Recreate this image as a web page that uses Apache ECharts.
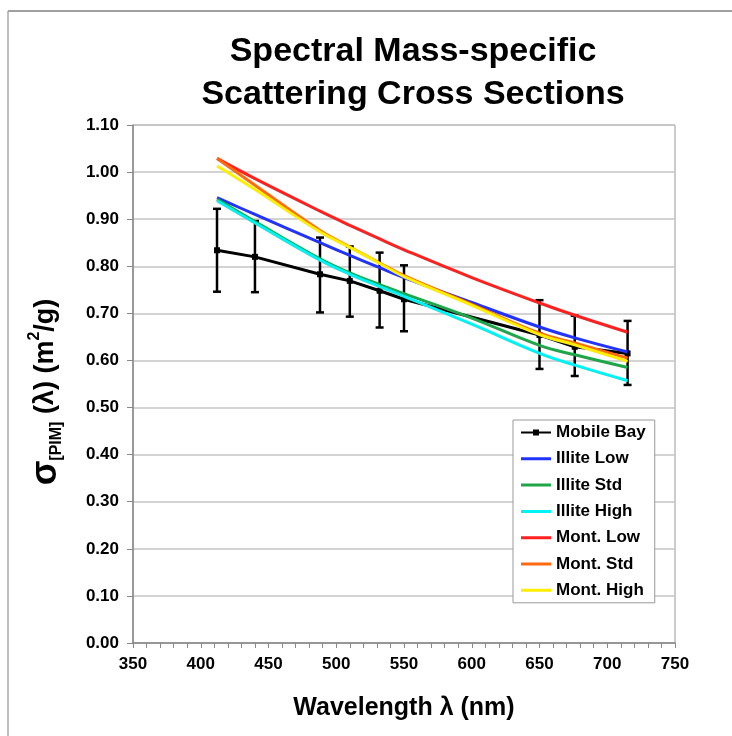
<!DOCTYPE html>
<html>
<head>
<meta charset="utf-8">
<script src="https://cdn.jsdelivr.net/npm/echarts@6/dist/echarts.min.js"></script>
<style>html,body{margin:0;padding:0;background:#fff;}#chart{width:732px;height:736px;}</style>
</head>
<body>
<div id="chart"></div>
<script>
// ---- data ----
const wavelengths = [412, 440, 488, 510, 532, 550, 650, 676, 715];
const mobileBay = [0.834, 0.820, 0.783, 0.769, 0.748, 0.730, 0.654, 0.629, 0.615];
const mobileBayLow = [0.746, 0.745, 0.702, 0.693, 0.670, 0.662, 0.582, 0.567, 0.548];
const mobileBayHigh = [0.922, 0.896, 0.861, 0.842, 0.829, 0.802, 0.728, 0.695, 0.684];

const modelWavelengths = [412, 440, 488, 510, 532, 550, 600, 650, 676, 715];
const illiteLow  = [0.946, 0.910, 0.850, 0.823, 0.797, 0.776, 0.723, 0.671, 0.648, 0.618];
const illiteStd  = [0.942, 0.895, 0.816, 0.786, 0.761, 0.742, 0.690, 0.632, 0.612, 0.585];
const illiteHigh = [0.939, 0.892, 0.813, 0.783, 0.757, 0.736, 0.677, 0.615, 0.590, 0.557];
const montLow    = [1.029, 0.986, 0.917, 0.887, 0.858, 0.835, 0.776, 0.722, 0.696, 0.660];
const montStd    = [1.029, 0.972, 0.876, 0.841, 0.807, 0.780, 0.719, 0.658, 0.637, 0.605];
const montHigh   = [1.013, 0.963, 0.873, 0.840, 0.806, 0.778, 0.717, 0.655, 0.633, 0.598];

const seriesNames = ['Mobile Bay', 'Illite Low', 'Illite Std', 'Illite High', 'Mont. Low', 'Mont. Std', 'Mont. High'];
const titleLines = ['Spectral Mass-specific', 'Scattering Cross Sections'];
const yTitle = '{s|σ}{sub|[PIM]}{t| (λ) (m}{sup|2}{t|/g)}';

const FONT = '"Liberation Sans", Arial, Helvetica, sans-serif';
const zip = (xs, ys) => xs.map((x, i) => [x, ys[i]]);

const LINE_ICON = 'path://M0,0L0,0Z M0,5.5H30V8.5H0Z M0,14L0,14Z';
const MARKER_ICON = 'path://M0,0L0,0Z M0,6H30V8H0Z M12,4H18V10H12Z M0,14L0,14Z';

const modelSeries = [
  [illiteLow, '#2233ff'],
  [illiteStd, '#1fa64a'],
  [illiteHigh, '#00f2f2'],
  [montLow, '#ff2020'],
  [montStd, '#ff6a10'],
  [montHigh, '#ffee00']
].map(([vals, color], i) => ({
  name: seriesNames[i + 1],
  type: 'line',
  data: zip(modelWavelengths, vals),
  smooth: 0.4,
  symbol: 'none',
  lineStyle: { color: color, width: 3 },
  itemStyle: { color: color },
  z: 3 + i
}));

const chart = echarts.init(document.getElementById('chart'));
chart.setOption({
  backgroundColor: '#fff',
  animation: false,
  title: {
    text: titleLines.join('\n'),
    left: 408, top: 25, textAlign: 'center',
    textStyle: { fontFamily: FONT, fontWeight: 'bold', fontSize: 34, lineHeight: 43, color: '#000' }
  },
  graphic: [
    { type: 'line', shape: { x1: 8, y1: 11, x2: 732, y2: 11 }, style: { stroke: '#808080', lineWidth: 1.5 } },
    { type: 'line', shape: { x1: 8, y1: 11, x2: 8, y2: 736 }, style: { stroke: '#a8a8a8', lineWidth: 1.5 } },
    {
      type: 'text', x: 46, y: 392, rotation: Math.PI / 2,
      style: {
        text: yTitle, align: 'center', verticalAlign: 'middle',
        fontFamily: FONT, fontWeight: 'bold', fill: '#000',
        rich: {
          s: { fontFamily: FONT, fontWeight: 'bold', fontSize: 36, fill: '#000', lineHeight: 38 },
          sub: { fontFamily: FONT, fontWeight: 'bold', fontSize: 16, fill: '#000', verticalAlign: 'bottom', lineHeight: 38, padding: [14, 0, 0, 0] },
          t: { fontFamily: FONT, fontWeight: 'bold', fontSize: 27, fill: '#000', lineHeight: 38 },
          sup: { fontFamily: FONT, fontWeight: 'bold', fontSize: 16, fill: '#000', verticalAlign: 'top', lineHeight: 38, padding: [0, 0, 12, 0] }
        }
      }
    }
  ],
  grid: { left: 133, right: 57, top: 125, bottom: 93, show: true, borderColor: '#999', borderWidth: 1, backgroundColor: 'transparent' },
  legend: {
    orient: 'vertical',
    left: 513, top: 420,
    data: seriesNames.map((n, i) => ({ name: n, icon: i === 0 ? MARKER_ICON : LINE_ICON })),
    itemWidth: 30, itemHeight: 14, itemGap: 9.3,
    padding: [4, 9, 4, 8],
    borderColor: '#999', borderWidth: 1, backgroundColor: '#fff',
    textStyle: { fontFamily: FONT, fontWeight: 'bold', fontSize: 17, lineHeight: 17, color: '#000' }
  },
  xAxis: {
    type: 'value', min: 350, max: 750, interval: 50,
    name: 'Wavelength λ (nm)', nameLocation: 'middle', nameGap: 53,
    nameTextStyle: { fontFamily: FONT, fontWeight: 'bold', fontSize: 25, color: '#000' },
    axisLine: { lineStyle: { color: '#888', width: 1.5 } },
    axisTick: { show: true, length: 5, lineStyle: { color: '#888' } },
    minorTick: { show: true, splitNumber: 5, length: 5, lineStyle: { color: '#888' } },
    splitLine: { show: false },
    axisLabel: { fontFamily: FONT, fontWeight: 'bold', fontSize: 17, color: '#000', margin: 13 }
  },
  yAxis: {
    type: 'value', min: 0, max: 1.1, interval: 0.1,
    axisLine: { show: true, lineStyle: { color: '#888', width: 1.5 } },
    axisTick: { show: true, length: 6, lineStyle: { color: '#888' } },
    splitLine: { show: true, lineStyle: { color: '#c4c4c4', width: 1.5 } },
    axisLabel: { fontFamily: FONT, fontWeight: 'bold', fontSize: 17, color: '#000', margin: 14,
      formatter: v => v.toFixed(2) }
  },
  series: [
    {
      name: seriesNames[0],
      type: 'line',
      data: zip(wavelengths, mobileBay),
      symbol: 'rect', symbolSize: 6,
      lineStyle: { color: '#000', width: 3 },
      itemStyle: { color: '#000' },
      z: 2
    },
    {
      name: 'errorbars',
      type: 'custom',
      data: wavelengths.map((w, i) => [w, mobileBayLow[i], mobileBayHigh[i]]),
      renderItem: function (params, api) {
        const lo = api.coord([api.value(0), api.value(1)]);
        const hi = api.coord([api.value(0), api.value(2)]);
        const hw = 4;
        const st = { stroke: '#000', lineWidth: 2.5 };
        return {
          type: 'group',
          children: [
            { type: 'line', shape: { x1: lo[0], y1: lo[1], x2: hi[0], y2: hi[1] }, style: st },
            { type: 'line', shape: { x1: lo[0] - hw, y1: lo[1], x2: lo[0] + hw, y2: lo[1] }, style: st },
            { type: 'line', shape: { x1: hi[0] - hw, y1: hi[1], x2: hi[0] + hw, y2: hi[1] }, style: st }
          ]
        };
      },
      z: 2,
      silent: true
    }
  ].concat(modelSeries)
});
</script>
</body>
</html>
